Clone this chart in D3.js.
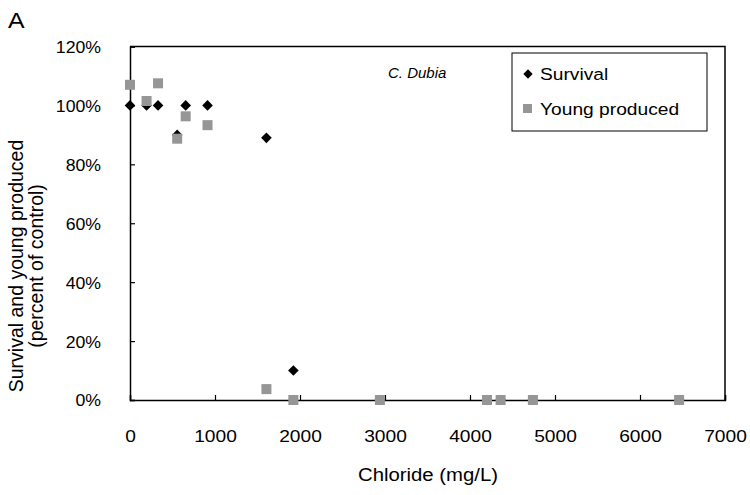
<!DOCTYPE html>
<html><head><meta charset="utf-8">
<script src="https://cdn.jsdelivr.net/npm/d3@7"></script>
<style>body{margin:0;background:#fff}svg{display:block;font-family:"Liberation Sans",Arial,sans-serif}</style>
</head><body><svg id="c" width="750" height="495"></svg>
<script>
const chloride = [0, 195, 330, 555, 655, 912, 1605, 1922, 2940, 4200, 4360, 4740, 6460];
const survival = [100, 100, 100, 90, 100, 100, 89, 10, 0, 0, 0, 0, 0];
const young = [107, 101.5, 107.5, 88.7, 96.3, 93.3, 3.7, 0, 0, 0, 0, 0, 0];
const xTicks = [0, 1000, 2000, 3000, 4000, 5000, 6000, 7000];
const yTicks = [0, 20, 40, 60, 80, 100, 120];
const seriesNames = ["Survival", "Young produced"];

const svg = d3.select("#c");
const L = 130, R = 725, T = 46.5, B = 400;
const x = d3.scaleLinear().domain([0, 7000]).range([L, R]);
const y = d3.scaleLinear().domain([0, 120]).range([B, T]);
const fs = 17, sx = 1.13;

// frame top & right
svg.append("path").attr("d", `M${L},${T}H${R}V${B}`).attr("fill","none").attr("stroke","#000").attr("stroke-width",1.5);

const xa = svg.append("g").attr("transform",`translate(0,${B})`)
  .call(d3.axisBottom(x).tickValues(xTicks).tickSize(-5).tickFormat(d3.format("d")));
const ya = svg.append("g").attr("transform",`translate(${L},0)`)
  .call(d3.axisLeft(y).tickValues(yTicks).tickSize(-5).tickFormat(d => d + "%"));
[xa, ya].forEach(a => {
  a.select(".domain").attr("stroke","#000").attr("stroke-width",1.5);
  a.selectAll(".tick line").attr("stroke","#000").attr("stroke-width",1.2);
  a.selectAll("text").attr("font-size", fs).attr("fill","#000").attr("font-family","Liberation Sans, Arial")
    .attr("x", 0).attr("y", 0);
});
xa.selectAll("text").attr("dy","0.71em").attr("transform",`translate(0,30) scale(${sx},1)`);
ya.selectAll("text").attr("dy","0.35em").attr("transform",`translate(-29,0) scale(1.04,1)`);

// points
const diamond = d3.symbol().type(d3.symbolDiamond2).size(72);
svg.append("g").selectAll("path").data(chloride.map((c,i)=>[c,survival[i]])).join("path")
  .attr("d", diamond).attr("transform", d => `translate(${x(d[0])},${y(d[1])})`)
  .attr("fill","#000");
svg.append("g").selectAll("rect").data(chloride.map((c,i)=>[c,young[i]])).join("rect")
  .attr("x", d => x(d[0]) - 5).attr("y", d => y(d[1]) - 5).attr("width",10).attr("height",10)
  .attr("fill","#969696");

// titles
svg.append("text").attr("transform",`translate(428,481) scale(${sx},1)`).attr("text-anchor","middle").attr("font-size",18).text("Chloride (mg/L)");
svg.append("text").attr("transform","translate(23,266) rotate(-90)").attr("text-anchor","middle").attr("font-size",19.5).text("Survival and young produced");
svg.append("text").attr("transform","translate(43,266) rotate(-90)").attr("text-anchor","middle").attr("font-size",19.5).text("(percent of control)");
svg.append("text").attr("transform",`translate(8,28) scale(${sx},1)`).attr("font-size",22).text("A");
svg.append("text").attr("x", 388).attr("y", 78).attr("font-size",15).attr("font-style","italic").text("C. Dubia");

// legend
svg.append("rect").attr("x",512).attr("y",53).attr("width",195).attr("height",78).attr("fill","#fff").attr("stroke","#000").attr("stroke-width",1);
const lg = svg.append("g");
lg.append("path").attr("d", d3.symbol().type(d3.symbolDiamond2).size(55)).attr("transform","translate(528,74)").attr("fill","#000");
lg.append("rect").attr("x",523).attr("y",104).attr("width",9).attr("height",9).attr("fill","#969696");
lg.append("text").attr("transform",`translate(540,80) scale(${sx},1)`).attr("font-size",17).text(seriesNames[0]);
lg.append("text").attr("transform",`translate(540,115) scale(${sx},1)`).attr("font-size",17).text(seriesNames[1]);
</script></body></html>
